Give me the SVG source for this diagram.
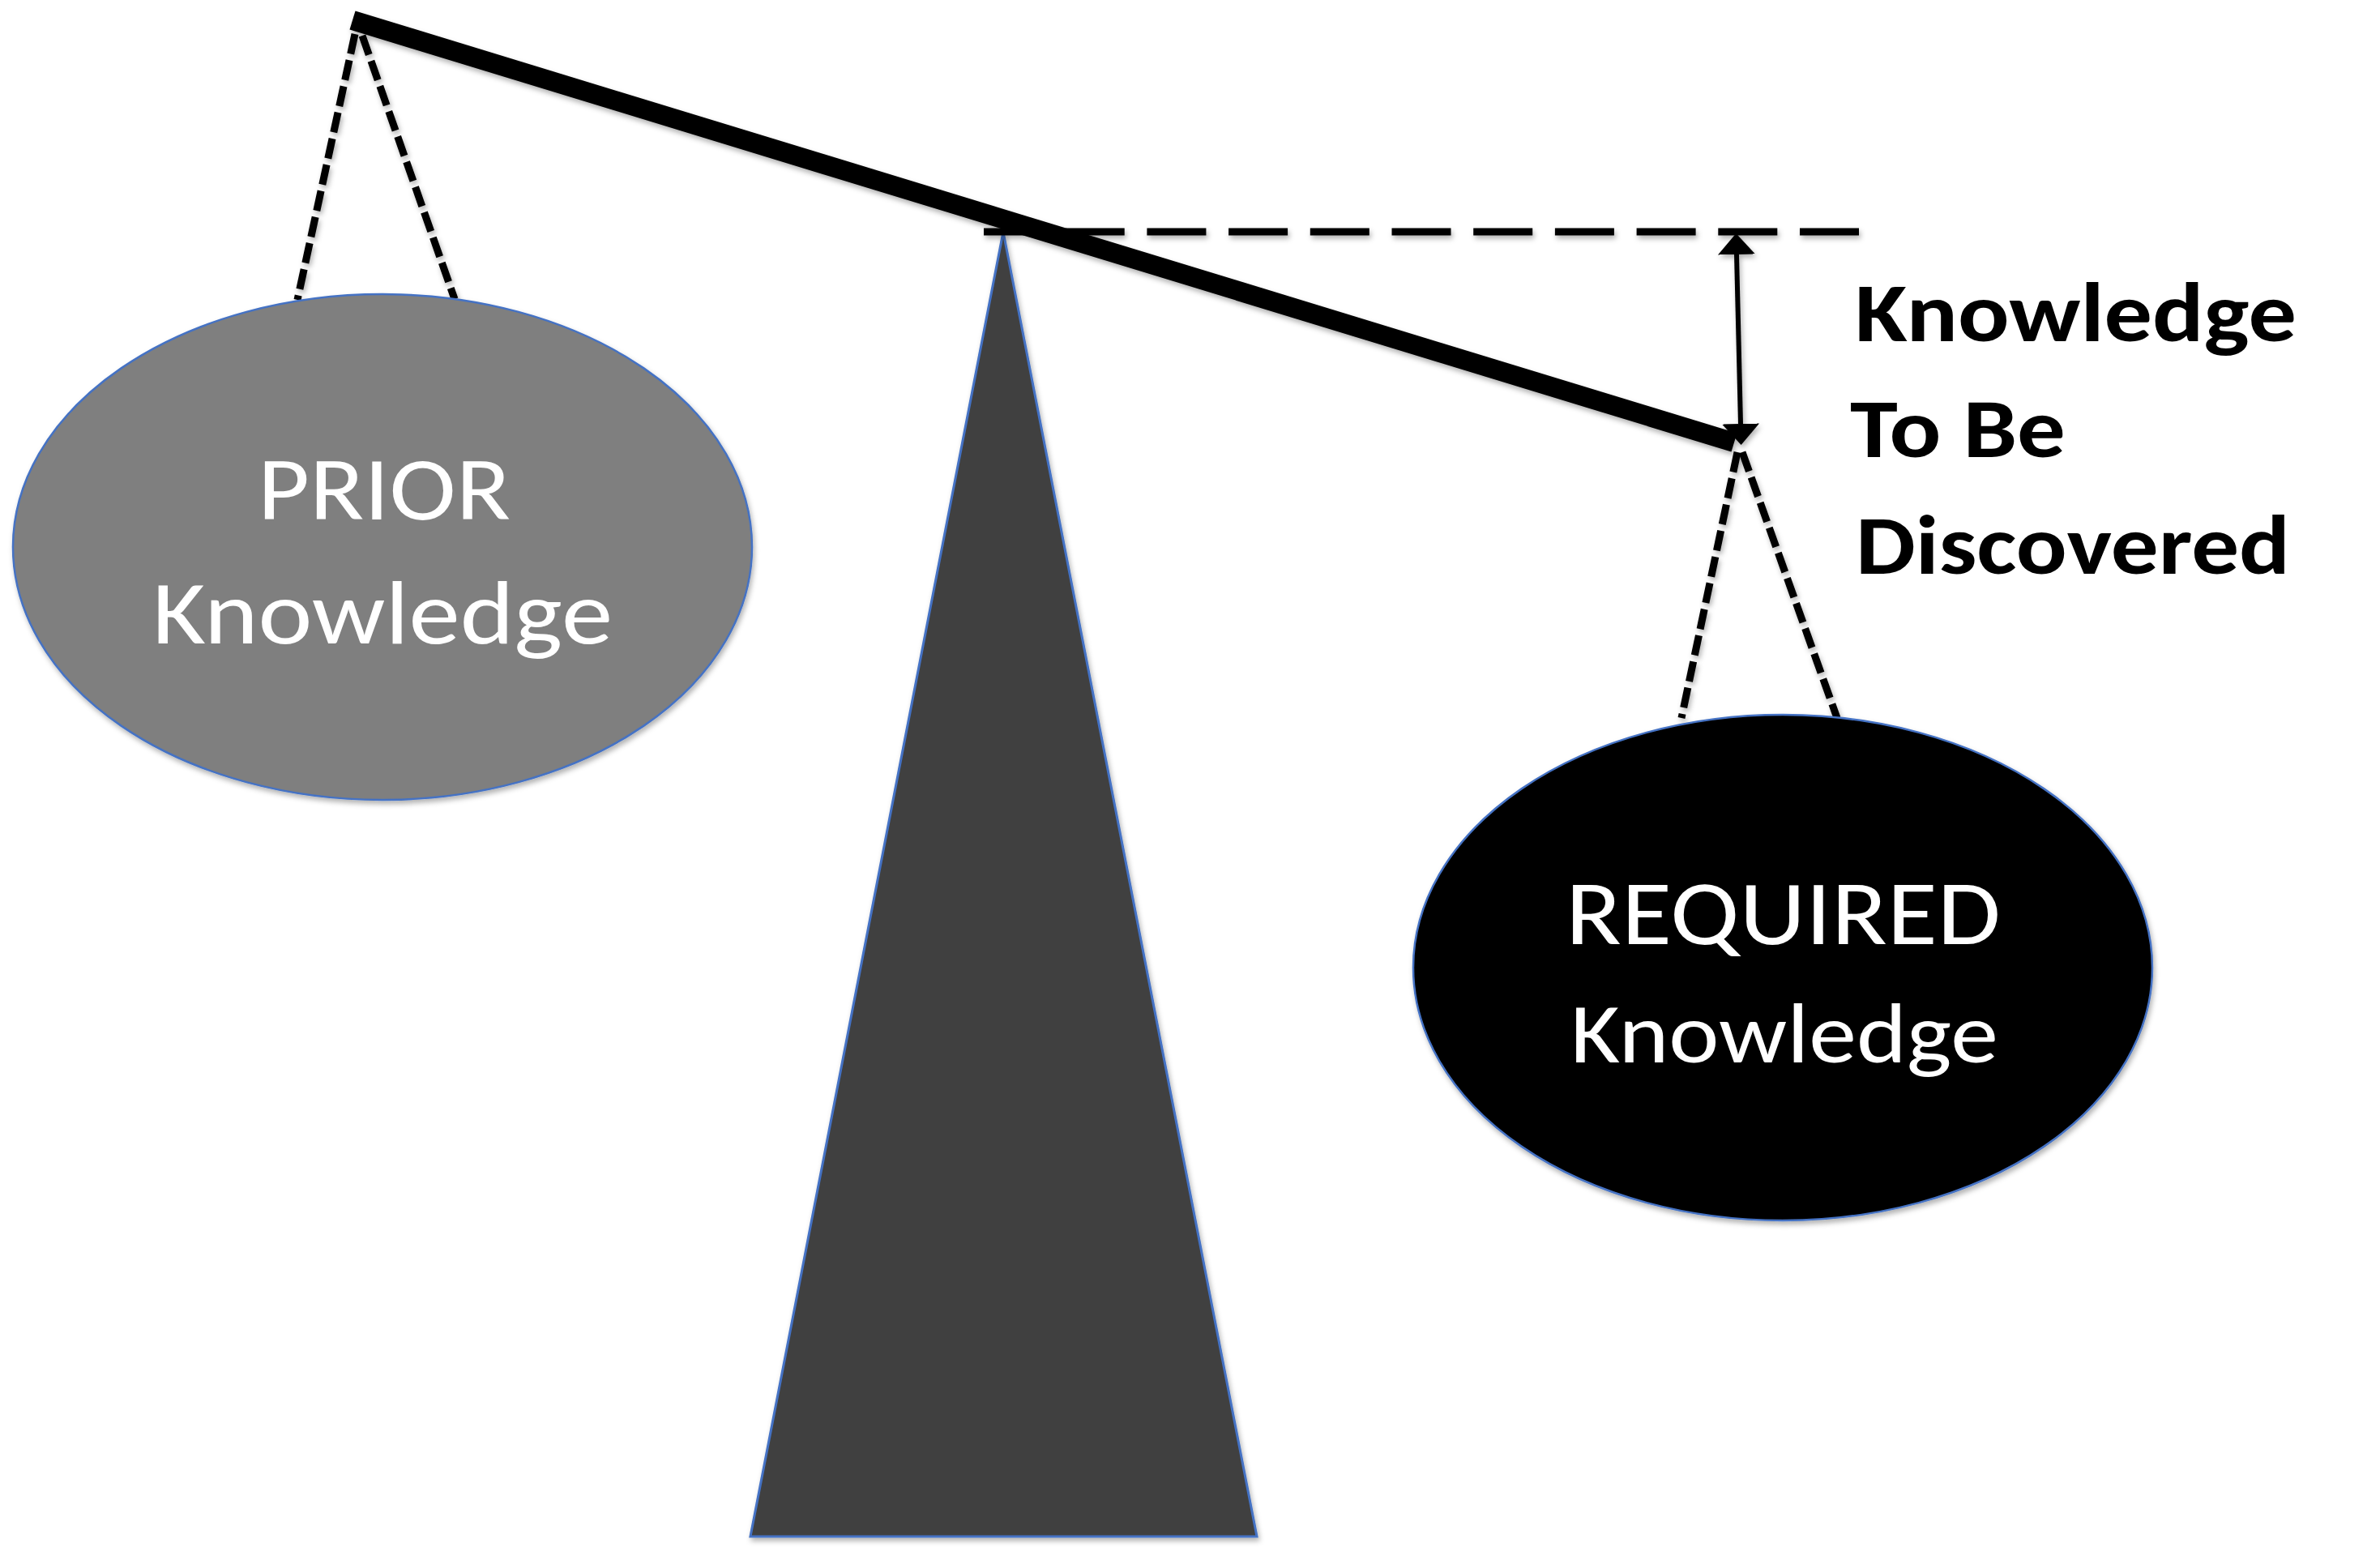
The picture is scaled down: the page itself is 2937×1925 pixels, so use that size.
<svg xmlns="http://www.w3.org/2000/svg" width="2937" height="1925" viewBox="0 0 2937 1925">
<defs>
<filter id="sh" x="-10%" y="-10%" width="120%" height="120%">
<feDropShadow dx="2" dy="4" stdDeviation="3" flood-color="#000" flood-opacity="0.3"/>
</filter>
<filter id="shu" filterUnits="userSpaceOnUse" x="0" y="0" width="2937" height="1925">
<feDropShadow dx="2" dy="4" stdDeviation="3" flood-color="#000" flood-opacity="0.3"/>
</filter>
<marker id="ah" markerUnits="userSpaceOnUse" markerWidth="30" markerHeight="50" viewBox="0 -25 30 50" refX="0" refY="0" orient="auto-start-reverse">
<path d="M0,-23 L26,0 L0,23 Z" fill="#000"/>
</marker>
<style>
.wt{font-family:Calibri,Carlito,"Open Sans","Noto Sans",sans-serif;fill:#fff}
.bt{font-family:Calibri,Carlito,"Open Sans","Noto Sans",sans-serif;font-weight:bold;fill:#000}
.ell{stroke:#4472C4;stroke-width:2.5}
.rope{fill:none;stroke:#000;stroke-width:9;stroke-dasharray:25 8}
</style>
</defs>
<rect width="2937" height="1925" fill="#fff"/>
<g id="fulcrum">
<polygon points="1238,286 926,1896 1551,1896" fill="#404040" stroke="#4472C4" stroke-width="3" filter="url(#sh)"/>
</g>
<g id="connectors" filter="url(#shu)">
<line class="rope" x1="438" y1="42" x2="367" y2="370"/>
<line class="rope" x1="447" y1="44" x2="561" y2="369"/>
<line class="rope" x1="2144" y1="558" x2="2075" y2="886"/>
<line class="rope" x1="2150" y1="558" x2="2267" y2="886"/>
<line x1="1214" y1="286" x2="2296" y2="286" stroke="#000" stroke-width="9" stroke-dasharray="73 27.7"/>
<line id="beam" x1="435" y1="25" x2="2140" y2="546" stroke="#000" stroke-width="24"/>
<line id="gap-arrow" x1="2143" y1="314" x2="2148" y2="523" stroke="#000" stroke-width="6" marker-start="url(#ah)" marker-end="url(#ah)"/>
</g>
<g id="prior">
<ellipse class="ell" cx="472" cy="675" rx="456" ry="312" fill="#7F7F7F" filter="url(#sh)"/>
<text class="wt" x="318" y="641" font-size="112" textLength="312" lengthAdjust="spacingAndGlyphs">PRIOR</text>
<text class="wt" x="188" y="794" font-size="112" textLength="568" lengthAdjust="spacingAndGlyphs">Knowledge</text>
</g>
<g id="required">
<ellipse class="ell" cx="2200" cy="1194" rx="456" ry="312" fill="#000" filter="url(#sh)"/>
<text class="wt" x="1932" y="1165" font-size="113" textLength="537" lengthAdjust="spacingAndGlyphs">REQUIRED</text>
<text class="wt" x="1938" y="1311" font-size="104" textLength="528" lengthAdjust="spacingAndGlyphs">Knowledge</text>
</g>
<g id="label">
<text class="bt" x="2289" y="421" font-size="104" textLength="545" lengthAdjust="spacingAndGlyphs">Knowledge</text>
<text class="bt" x="2283" y="564" font-size="104" textLength="266" lengthAdjust="spacingAndGlyphs">To Be</text>
<text class="bt" x="2290" y="708" font-size="104" textLength="536" lengthAdjust="spacingAndGlyphs">Discovered</text>
</g>
</svg>
